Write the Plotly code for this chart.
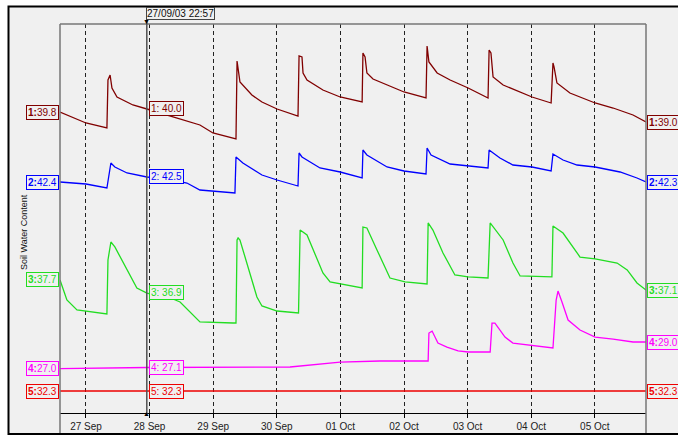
import numpy as np
import pandas as pd
import plotly.graph_objects as go

# ---------------- data ----------------
START = "2003-09-27 00:00"          # hours below are measured from this instant
X_RANGE_HOURS = [-9.8, 211.3]
CURSOR_HOURS = 22.95                # 27/09/03 22:57
CURSOR_TEXT = "27/09/03 22:57"
TICK_DATES = ["2003-09-27", "2003-09-28", "2003-09-29", "2003-09-30", "2003-10-01",
              "2003-10-02", "2003-10-03", "2003-10-04", "2003-10-05"]
TICK_LABELS = ["27 Sep", "28 Sep", "29 Sep", "30 Sep", "01 Oct",
               "02 Oct", "03 Oct", "04 Oct", "05 Oct"]
Y_TITLE = "Soil Water Content"

SERIES_IDS = ["1", "2", "3", "4", "5"]

H1 = [-9.8, 0.0, 7.9, 8.3, 9.1, 9.8, 11.7, 17.7, 23.0, 32.8, 40.4, 43.0, 47.9, 56.2, 56.6,
      57.0, 58.1, 62.6, 66.4, 72.1, 80.0, 80.4, 81.5, 81.9, 83.4, 89.4, 95.9, 104.2, 104.5,
      105.3, 106.0, 108.3, 113.6, 120.0, 128.3, 128.7, 129.4, 132.5, 137.4, 144.2, 151.7,
      152.1, 152.8, 153.6, 157.4, 162.6, 168.3, 175.5, 176.2, 176.6, 177.7, 182.6, 192.1,
      198.9, 206.4, 211.3]
V1 = [39.80, 38.92, 38.52, 42.36, 42.76, 41.72, 41.00, 40.36, 40.04, 39.40, 38.92, 38.76,
      38.12, 37.70, 37.64, 43.88, 42.20, 41.16, 40.60, 40.04, 39.48, 44.28, 44.20, 42.92,
      42.36, 41.56, 41.00, 40.60, 44.52, 44.20, 42.92, 42.44, 41.96, 41.40, 40.92, 45.08,
      43.80, 42.92, 42.36, 41.72, 40.92, 44.76, 44.52, 42.60, 41.96, 41.48, 41.00, 40.52,
      43.72, 43.40, 42.12, 41.32, 40.52, 40.12, 39.56, 39.00]

H2 = [-9.8, -6.0, 0.0, 7.9, 8.3, 9.4, 10.9, 15.5, 23.0, 30.6, 38.1, 43.0, 56.2, 56.6, 59.2,
      66.4, 72.1, 80.0, 80.4, 81.5, 88.3, 95.9, 104.2, 104.5, 106.0, 113.6, 120.0, 128.3,
      128.7, 130.2, 137.4, 144.2, 151.7, 152.1, 156.2, 161.1, 168.3, 175.5, 176.2, 180.0,
      185.3, 192.1, 201.5, 207.9, 211.3]
V2 = [42.36, 42.34, 42.32, 42.24, 42.40, 42.74, 42.66, 42.54, 42.46, 42.42, 42.34, 42.20,
      42.14, 42.86, 42.74, 42.50, 42.40, 42.28, 42.94, 42.86, 42.64, 42.56, 42.44, 43.00,
      42.90, 42.66, 42.58, 42.52, 43.04, 42.90, 42.72, 42.68, 42.64, 43.00, 42.84, 42.70,
      42.66, 42.58, 42.92, 42.80, 42.70, 42.66, 42.56, 42.44, 42.36]

H3 = [-9.8, -7.2, -3.4, 7.9, 8.3, 9.4, 10.9, 15.5, 19.2, 23.0, 32.8, 35.5, 43.0, 55.5, 56.6,
      57.0, 57.4, 58.1, 59.2, 61.1, 64.5, 66.4, 72.1, 80.2, 80.8, 83.4, 89.4, 92.1, 95.9,
      104.2, 104.5, 106.0, 109.8, 114.7, 120.4, 127.9, 128.7, 129.1, 130.9, 134.7, 139.2,
      144.2, 151.7, 152.5, 153.6, 157.4, 161.1, 163.8, 175.8, 176.2, 180.0, 186.4, 192.1,
      200.4, 204.2, 207.9, 211.3]
V3 = [37.87, 36.20, 35.37, 35.03, 39.53, 41.03, 40.62, 38.70, 37.20, 36.78, 36.28, 36.03,
      34.37, 34.28, 34.28, 41.20, 41.37, 41.20, 40.37, 38.95, 36.45, 35.70, 35.28, 35.12,
      42.03, 41.62, 38.45, 37.70, 37.53, 37.20, 42.28, 42.20, 40.37, 38.03, 37.70, 37.53,
      37.53, 42.62, 42.03, 40.12, 38.28, 38.12, 38.03, 42.62, 42.28, 41.20, 39.28, 38.20,
      38.12, 42.37, 41.78, 39.78, 39.62, 39.28, 38.70, 37.62, 37.03]

H4 = [-9.8, 23.0, 77.0, 80.8, 95.9, 110.9, 129.1, 129.4, 130.6, 132.8, 136.2, 140.4, 144.2,
      152.5, 153.2, 154.3, 158.1, 161.1, 167.5, 176.2, 177.4, 178.1, 179.6, 181.9, 186.4,
      192.1, 198.9, 206.4, 211.3]
V4 = [27.00, 27.08, 27.12, 27.19, 27.50, 27.58, 27.58, 29.73, 29.88, 28.96, 28.65, 28.35,
      28.27, 28.27, 30.50, 30.50, 29.42, 28.96, 28.81, 28.58, 32.27, 32.96, 32.12, 30.73,
      29.96, 29.42, 29.27, 29.04, 29.04]

H5 = [-9.8, 211.3]
V5 = [32.3, 32.3]

LEFT_LABELS = ["39.8", "42.4", "37.7", "27.0", "32.3"]
CURSOR_LABELS = ["40.0", "42.5", "36.9", "27.1", "32.3"]
RIGHT_LABELS = ["39.0", "42.3", "37.1", "29.0", "32.3"]

# ---------------- style ----------------
COLORS = ["#800000", "#0000ff", "#22dd22", "#ff00ff", "#ee0000"]
Y_RANGES = [[15.72, 46.84], [37.74, 45.52], [26.78, 59.2], [23.58, 53.5], [30.1, 69.0]]
FONT = "Arial, Liberation Sans, sans-serif"
BG = "#f0f0f0"

W, H = 678, 435
ML, MR, MT, MB = 60, 32, 24, 22
PW, PH = W - ML - MR, H - MT - MB


def px_x(px):
    return (px - ML) / PW


def px_y(py):
    return (H - MB - py) / PH


t0 = pd.Timestamp(START)


def to_time(hours):
    return [t0 + pd.Timedelta(hours=float(h)) for h in hours]


hours = [H1, H2, H3, H4, H5]
vals = [V1, V2, V3, V4, V5]

fig = go.Figure()
for i in range(5):
    fig.add_trace(go.Scatter(
        x=to_time(hours[i]), y=vals[i], mode="lines",
        line=dict(color=COLORS[i], width=1.3),
        yaxis="y" if i == 0 else f"y{i+1}", showlegend=False, hoverinfo="skip"))

x_start = to_time([X_RANGE_HOURS[0]])[0]
x_end = to_time([X_RANGE_HOURS[1]])[0]
x_cur = to_time([CURSOR_HOURS])[0]

layout = dict(
    width=W, height=H, margin=dict(l=ML, r=MR, t=MT, b=MB, autoexpand=False),
    paper_bgcolor=BG, plot_bgcolor=BG, showlegend=False,
    font=dict(family=FONT, size=10, color="#222"),
    xaxis=dict(type="date", range=[x_start, x_end], automargin=False,
               tickvals=TICK_DATES, ticktext=TICK_LABELS,
               ticks="outside", ticklen=4, tickcolor="#000", tickwidth=1,
               showline=True, linecolor="#000", linewidth=1,
               showgrid=True, gridcolor="#222", gridwidth=1, griddash="4px,3px",
               zeroline=False, tickfont=dict(size=10, color="#222", family=FONT)),
)
for i in range(5):
    key = "yaxis" if i == 0 else f"yaxis{i+1}"
    ax = dict(range=Y_RANGES[i], visible=False, showgrid=False, zeroline=False,
              fixedrange=True, automargin=False)
    if i > 0:
        ax["overlaying"] = "y"
    layout[key] = ax
fig.update_layout(**layout)

shapes = []
# white surround outside the frame
shapes.append(dict(type="rect", xref="paper", yref="paper",
                   x0=px_x(-20), x1=px_x(8), y0=px_y(460), y1=px_y(-20),
                   line=dict(width=0), fillcolor="#ffffff", layer="below"))
shapes.append(dict(type="rect", xref="paper", yref="paper",
                   x0=px_x(-20), x1=px_x(720), y0=px_y(6), y1=px_y(-20),
                   line=dict(width=0), fillcolor="#ffffff", layer="below"))
# outer black frame
shapes.append(dict(type="rect", xref="paper", yref="paper",
                   x0=px_x(8.5), x1=px_x(720), y0=px_y(434), y1=px_y(6.5),
                   line=dict(color="#000", width=2), fillcolor="rgba(0,0,0,0)", layer="above"))
# grey plot borders
for xp in (0, 1):
    shapes.append(dict(type="line", xref="paper", yref="paper", x0=xp, x1=xp,
                       y0=px_y(433), y1=1, line=dict(color="#777", width=1.5), layer="above"))
shapes.append(dict(type="line", xref="paper", yref="paper", x0=0, x1=1, y0=1, y1=1,
                   line=dict(color="#777", width=1.5), layer="above"))
# cursor line
shapes.append(dict(type="line", xref="x", yref="paper", x0=x_cur, x1=x_cur,
                   y0=px_y(414), y1=px_y(20), line=dict(color="#505050", width=1.5), layer="above"))
fig.update_layout(shapes=shapes)

ann = []
ann.append(dict(text=Y_TITLE, x=px_x(17), y=px_y(232), xref="paper", yref="paper",
                textangle=-90, showarrow=False, font=dict(size=9, color="#111", family=FONT)))
ann.append(dict(text=CURSOR_TEXT, x=x_cur, xref="x", y=px_y(14), yref="paper",
                xanchor="left", yanchor="middle", xshift=-1, showarrow=False,
                bordercolor="#444", borderwidth=1, borderpad=0, bgcolor=BG,
                font=dict(size=10, color="#111", family=FONT)))
ann.append(dict(text="▼", x=x_cur, xref="x", y=px_y(22), yref="paper",
                xanchor="center", yanchor="middle", showarrow=False,
                font=dict(size=7, color="#000")))
ann.append(dict(text="▲", x=x_cur, xref="x", y=px_y(414), yref="paper",
                xanchor="center", yanchor="middle", showarrow=False,
                font=dict(size=7, color="#000")))

for i in range(5):
    yref = "y" if i == 0 else f"y{i+1}"
    sid = SERIES_IDS[i]
    y_left = vals[i][0]
    y_right = vals[i][-1]
    y_cur = float(np.interp(CURSOR_HOURS, hours[i], vals[i]))
    common = dict(yref=yref, showarrow=False, yanchor="middle", bordercolor=COLORS[i],
                  borderwidth=1, borderpad=1, bgcolor=BG,
                  font=dict(size=10, color=COLORS[i], family=FONT))
    ann.append(dict(text=f"<b>{sid}:</b>{LEFT_LABELS[i]}", x=x_start, xref="x", y=y_left,
                    xanchor="right", xshift=-1, **common))
    ann.append(dict(text=f"{sid}: {CURSOR_LABELS[i]}", x=x_cur, xref="x", y=y_cur,
                    xanchor="left", xshift=2, **common))
    ann.append(dict(text=f"<b>{sid}:</b>{RIGHT_LABELS[i]}", x=x_end, xref="x", y=y_right,
                    xanchor="left", xshift=1, **common))
fig.update_layout(annotations=ann)

# remove the page's default margin so the 678x435 figure fills the window exactly
POST = """
document.body.style.margin='0';
document.body.style.overflow='hidden';
document.documentElement.style.overflow='hidden';
"""
fig.write_html("out.html", post_script=POST, config=dict(staticPlot=True))
